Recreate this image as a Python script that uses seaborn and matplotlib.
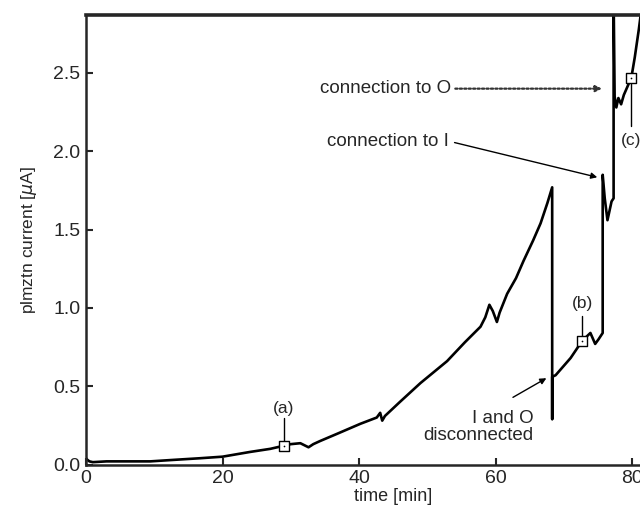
import numpy as np
import pandas as pd
import seaborn as sns
import matplotlib.pyplot as plt

# время [мин] и ток [мкА]
time_min = [0, 0.2, 0.5, 1, 3, 6, 9.4, 13, 16.7, 20, 24, 27, 29, 30, 31.4, 32.6, 33.3, 34.3,
            37, 40.2, 42.6, 43.1, 43.4, 43.8, 46, 49, 52.9, 55.5, 57.8, 58.5, 59.1, 59.6,
            60.2, 60.6, 61.7, 63, 64.1, 65.5, 66.6, 67.6, 68.3, 68.3, 68.3, 68.8, 70, 71,
            72.7, 73.9, 74.6, 75.1, 75.7, 75.7, 76.0, 76.4, 77.0, 77.3, 77.3, 77.45, 77.7,
            78.0, 78.4, 78.8, 79.4, 79.9, 80.4, 81.0, 81.5]
current_uA = [0.04, 0.03, 0.02, 0.015, 0.02, 0.02, 0.02, 0.03, 0.04, 0.05, 0.08, 0.10, 0.12, 0.13,
              0.136, 0.11, 0.13, 0.15, 0.20, 0.26, 0.30, 0.33, 0.28, 0.31, 0.40, 0.52, 0.66, 0.78,
              0.88, 0.94, 1.02, 0.98, 0.91, 0.97, 1.09, 1.19, 1.30, 1.43, 1.54, 1.67, 1.77, 0.29,
              0.56, 0.57, 0.63, 0.68, 0.79, 0.84, 0.77, 0.80, 0.84, 1.85, 1.70, 1.56, 1.68, 1.70,
              3.0, 2.35, 2.28, 2.34, 2.30, 2.36, 2.42, 2.47, 2.60, 2.78, 2.95]

# отмеченные точки (a), (b), (c)
mark_labels = ['(a)', '(b)', '(c)']
mark_time = [29, 72.7, 79.9]
mark_current = [0.12, 0.79, 2.47]
mark_label_y = [0.36, 1.03, 2.07]
mark_line_end = [0.30, 0.95, 2.16]

x_ticks = [0, 20, 40, 60, 80]
y_ticks = [0.0, 0.5, 1.0, 1.5, 2.0, 2.5]


def main():
    sns.set_style('ticks')
    plt.rcParams['font.family'] = ['Liberation Sans', 'DejaVu Sans']

    df = pd.DataFrame({'time': time_min, 'current': current_uA})
    marks = pd.DataFrame({'time': mark_time, 'current': mark_current})

    fig = plt.figure(figsize=(6.4, 5.19), dpi=100)
    ax = fig.add_axes([0.1344, 0.105, 0.9598, 0.866])

    sns.lineplot(data=df, x='time', y='current', sort=False, estimator=None,
                 color='black', lw=1.9, ax=ax)

    # линии-выноски к меткам
    for lab, t, c, ly, le in zip(mark_labels, mark_time, mark_current, mark_label_y, mark_line_end):
        ax.plot([t, t], [c, le], color='black', lw=1.0)
        ax.text(t, ly, lab, ha='center', va='center', fontsize=12.5)

    sns.scatterplot(data=marks, x='time', y='current', marker='s', s=45,
                    facecolor='white', edgecolor='black', linewidth=1.0, ax=ax, zorder=5)
    sns.scatterplot(data=marks, x='time', y='current', marker='.', s=6,
                    color='black', linewidth=0, ax=ax, zorder=6)

    # подписи со стрелками
    ax.annotate('', xy=(76.0, 2.40), xytext=(53.7, 2.40),
                arrowprops=dict(arrowstyle='-|>', color='#333333', lw=1.6,
                                linestyle=(0, (1, 1)), mutation_scale=9))
    ax.text(53.5, 2.40, 'connection to O', ha='right', va='center', fontsize=13.5)

    ax.annotate('', xy=(75.3, 1.83), xytext=(53.6, 2.06),
                arrowprops=dict(arrowstyle='-|>', color='black', lw=1.0, mutation_scale=9))
    ax.text(53.2, 2.06, 'connection to I', ha='right', va='center', fontsize=13.5)

    ax.annotate('', xy=(67.8, 0.56), xytext=(62.2, 0.42),
                arrowprops=dict(arrowstyle='-|>', color='black', lw=1.0, mutation_scale=9))
    ax.text(65.6, 0.24, 'I and O\ndisconnected', ha='right', va='center',
            fontsize=13.5, linespacing=0.95, multialignment='right')

    ax.set_xlim(0, 90)
    ax.set_ylim(0, 2.87)
    ax.set_xticks(x_ticks)
    ax.set_yticks(y_ticks)
    ax.set_yticklabels(['%.1f' % v for v in y_ticks])
    ax.tick_params(direction='in', length=5, width=1.5, labelsize=14, pad=4)
    ax.set_xlabel('time [min]', fontsize=13, labelpad=1)
    ax.set_ylabel('plmztn current [$\\mu$A]', fontsize=12.5, labelpad=10)

    for side in ['left', 'bottom']:
        ax.spines[side].set_linewidth(1.8)
    ax.spines['top'].set_linewidth(2.6)
    ax.spines['right'].set_visible(False)

    plt.savefig('out.png', dpi=100)


if __name__ == '__main__':
    main()
